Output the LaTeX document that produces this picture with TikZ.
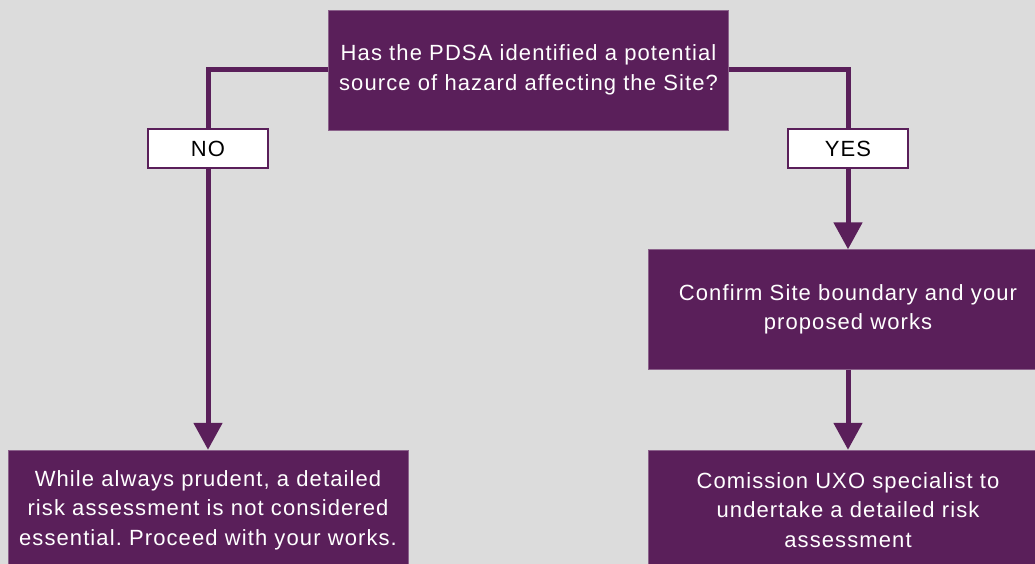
\documentclass[tikz,border=0pt]{standalone}
\usepackage{fontspec}
\setmainfont[LetterSpace=5]{Liberation Sans}
\usepackage{tikz}
\usetikzlibrary{arrows.meta}
\frenchspacing
\definecolor{plum}{HTML}{5A1F5A}
\definecolor{bggray}{HTML}{DCDCDC}
\tikzset{
  stepbox/.style={fill=plum, draw=plum!70!white, text=white, minimum width=400pt, minimum height=120pt, align=center, inner sep=0pt, font=\fontsize{22}{29.5}\selectfont},
  answer/.style={fill=white, draw=plum, line width=1.5pt, minimum width=120pt, minimum height=39pt, inner sep=0pt, font=\fontsize{22}{25}\selectfont},
  link/.style={draw=plum, line width=5pt},
  every edge/.style={link, -{Triangle[width=28pt,length=27pt]}, shorten >=0pt}
}

\begin{document}
\begin{tikzpicture}[x=1pt,y=-1pt]
    \fill[bggray] (0,0) rectangle (1035,564);
    \useasboundingbox (0,0) rectangle (1035,564);

    \node[stepbox] at (528.5, 70) (Q) {Has the PDSA identified a potential\\source of hazard affecting the Site?};
    \node[answer] at (208, 148.5) (no) {NO};
    \node[answer] at (848, 148.5) (yes) {YES};
    \node[stepbox] at (848, 309.5) (confirm) {Confirm Site boundary and your\\proposed works};
    \node[stepbox] at (208, 510) (skip) {While always prudent, a detailed\\risk assessment is not considered\\essential. Proceed with your works.};
    \node[stepbox] at (848, 510) (uxo) {Comission UXO specialist to\\undertake a detailed risk\\assessment};

    \draw[link] (Q.west) -| (no.north);
    \draw[link] (Q.east) -| (yes.north);

    \draw (no) edge (skip);
    \draw (yes) edge (confirm);
    \draw (confirm) edge (uxo);

    % answer boxes drawn again over the lines
    \node[answer] at (no) {NO};
    \node[answer] at (yes) {YES};
\end{tikzpicture}
\end{document}
